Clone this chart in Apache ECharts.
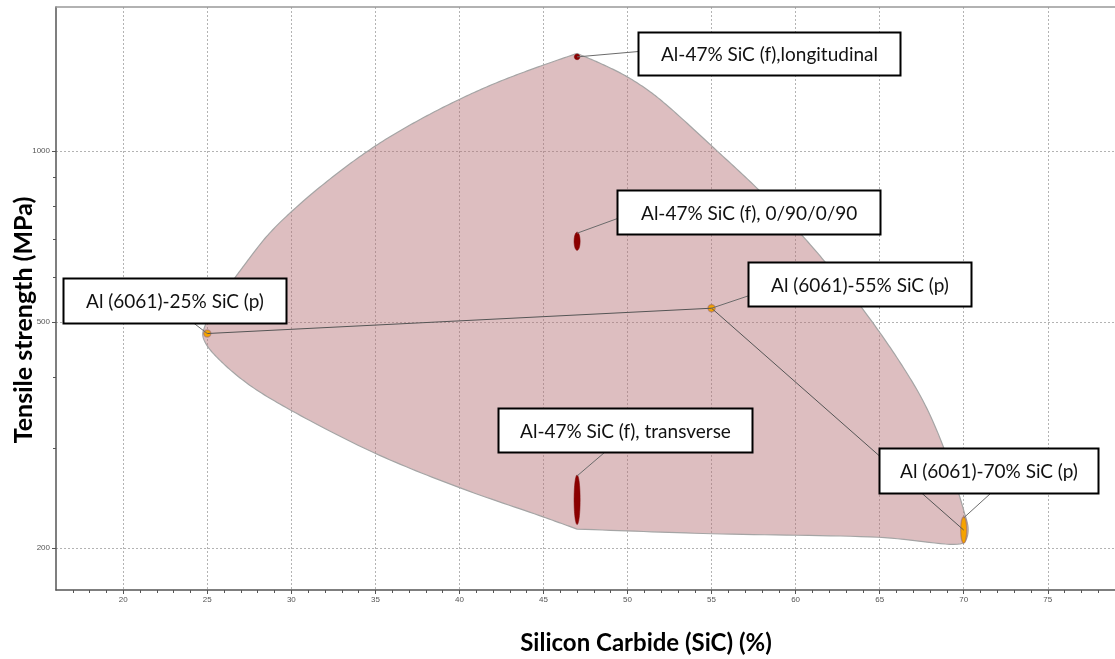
<!DOCTYPE html>
<html><head><meta charset="utf-8">
<script src="https://cdn.jsdelivr.net/npm/echarts@6/dist/echarts.min.js"></script>
<style>html,body{margin:0;padding:0;background:#fff}#c{width:1115px;height:659px}</style>
</head><body><div id="c"></div>
<script>
// ---------- data ----------
const materials = [
  'Al-47% SiC (f),longitudinal',
  'Al-47% SiC (f), 0/90/0/90',
  'Al-47% SiC (f), transverse',
  'Al (6061)-25% SiC (p)',
  'Al (6061)-55% SiC (p)',
  'Al (6061)-70% SiC (p)'
];
const materialFamily = ['fibre', 'fibre', 'fibre', '6061', '6061', '6061'];
const sicPercent   = [47, 47, 47, 25, 55, 70];
const strengthLow  = [1455, 668, 220, 474, 524, 204];   // MPa
const strengthHigh = [1470, 719, 269, 480, 533, 227];   // MPa

// envelope bubble around all materials (SiC %, MPa), clockwise from the top
const envelopeSiC = [47.00, 48.49, 49.91, 51.28, 52.46, 55.14, 57.81, 60.25, 62.15, 64.05, 66.13, 67.56, 68.63, 69.46, 70.00, 70.26, 70.17, 69.93,
  64.93, 55.02, 47.00, 44.98, 39.93, 34.95, 30.02, 27.52, 25.86, 24.97, 24.73, 24.82, 25.09, 25.62, 26.45, 27.11, 28.52, 30.00, 32.47, 34.99, 37.42, 39.99, 42.37, 45.00];
const envelopeStrength = [1483, 1420, 1353, 1274, 1194, 1011, 853, 717, 617, 524, 428, 364, 310, 263, 233, 217, 208, 204,
  209, 212, 216, 227, 256, 294, 349, 387, 425, 455, 474, 488, 508, 542, 587, 624, 706, 781, 900, 1019, 1125, 1231, 1323, 1415];

const xTicks = [20, 25, 30, 35, 40, 45, 50, 55, 60, 65, 70, 75];
const xMinorTicks = [17, 18, 19, 21, 22, 23, 24, 26, 27, 28, 29, 31, 32, 33, 34, 36, 37, 38, 39, 41, 42, 43, 44, 46, 47, 48, 49,
  51, 52, 53, 54, 56, 57, 58, 59, 61, 62, 63, 64, 66, 67, 68, 69, 71, 72, 73, 74, 76, 77, 78, 79];
const yTicks = [200, 500, 1000];
const yMinorTicks = [300, 400, 600, 700, 800, 900];
const X_MIN = 16, X_MAX = 79;
const Y_MIN = 168.8, Y_MAX = 1790;

// ---------- styles ----------
const envelopeCorners = [0, 20];   // outline vertices drawn as corners, the rest is a smooth curve
const familyFill   = { fibre: '#8b0000', '6061': '#f5a300' };
const familyStroke = { fibre: '#7a0000', '6061': 'rgba(150,100,100,0.55)' };
const familyMinR   = { fibre: 2.8, '6061': 3.6 };
// annotation boxes: offset of box top-left from the mark centre, size, leader start inside box, leader to mark top?
const boxDx = [60.7, 40, -79.3, -144, 36, -85];
const boxDy = [-24.6, -51.7, -92, -55.7, -46, -81.7];
const boxW  = [262, 263.4, 254, 223, 223, 219];
const boxH  = [43.3, 44, 44, 45, 44.3, 45];
const leadX = [0, 0, 106, 130.7, 0, 111];
const leadY = [19, 28, 44, 45, 33.3, 45];
const leadToTop = [false, true, true, false, false, true];

const L = Math.log10;
const TEXT_FONT = 'Lato, "Open Sans", sans-serif';
const chart = echarts.init(document.getElementById('c'));

const axisGray = '#555';
const gridLine = { show: true, lineStyle: { color: '#b3b3b3', type: [2, 2], width: 1 } };

const idx6061 = [3, 4, 5];

function markGeom(api) {
  const x = api.value(0), lo = api.value(1), hi = api.value(2), i = api.value(3);
  const c = api.coord([x, (lo + hi) / 2]);
  const pLo = api.coord([x, lo]), pHi = api.coord([x, hi]);
  const fam = materialFamily[i];
  let rx = api.coord([x + 0.18, lo])[0] - c[0];
  let ry = (pLo[1] - pHi[1]) / 2;
  if (ry < familyMinR[fam]) { rx = familyMinR[fam]; ry = familyMinR[fam]; }
  return { i, c, rx, ry, fam };
}

// centripetal Catmull-Rom outline through the (pixel-mapped) envelope vertices
function smoothOutline(pts, corners) {
  const n = pts.length, out = [];
  const dist = (a, b) => Math.sqrt(Math.hypot(b[0] - a[0], b[1] - a[1]));
  for (let i = 0; i < n; i++) {
    const j = (i + 1) % n;
    const P1 = pts[i], P2 = pts[j];
    const P0 = corners.includes(i) ? P1 : pts[(i - 1 + n) % n];
    const P3 = corners.includes(j) ? P2 : pts[(j + 1) % n];
    const d1 = dist(P0, P1), d2 = dist(P1, P2), d3 = dist(P2, P3);
    let B1, B2;
    if (d1 < 1e-6) B1 = [P1[0] + (P2[0] - P1[0]) / 3, P1[1] + (P2[1] - P1[1]) / 3];
    else B1 = [0, 1].map(k => (d1 * d1 * P2[k] - d2 * d2 * P0[k] + (2 * d1 * d1 + 3 * d1 * d2 + d2 * d2) * P1[k]) / (3 * d1 * (d1 + d2)));
    if (d3 < 1e-6) B2 = [P2[0] - (P2[0] - P1[0]) / 3, P2[1] - (P2[1] - P1[1]) / 3];
    else B2 = [0, 1].map(k => (d3 * d3 * P1[k] - d2 * d2 * P3[k] + (2 * d3 * d3 + 3 * d3 * d2 + d2 * d2) * P2[k]) / (3 * d3 * (d3 + d2)));
    const steps = 16;
    for (let s = 0; s < steps; s++) {
      const t = s / steps, u = 1 - t;
      out.push([0, 1].map(k => u * u * u * P1[k] + 3 * u * u * t * B1[k] + 3 * u * t * t * B2[k] + t * t * t * P2[k]));
    }
  }
  return out;
}

chart.setOption({
  animation: false,
  backgroundColor: '#fff',
  grid: { left: 56, right: 0, top: 7, bottom: 69 },
  xAxis: [
    { type: 'value', min: X_MIN, max: X_MAX, position: 'bottom',
      axisLine: { onZero: false, lineStyle: { color: axisGray, width: 1.5 } },
      axisTick: { customValues: xTicks, length: 4, lineStyle: { color: axisGray } },
      axisLabel: { customValues: xTicks, fontSize: 8, color: '#555', margin: 6, fontFamily: 'Liberation Sans' },
      splitLine: gridLine },
    { type: 'value', min: X_MIN, max: X_MAX, position: 'bottom',
      axisLine: { show: false, onZero: false },
      axisTick: { customValues: xMinorTicks, length: 3, lineStyle: { color: axisGray } },
      axisLabel: { show: false }, splitLine: { show: false } },
    { type: 'value', min: X_MIN, max: X_MAX, position: 'top',
      axisLine: { show: true, onZero: false, lineStyle: { color: '#999', width: 1.5 } },
      axisTick: { show: false }, axisLabel: { show: false }, splitLine: { show: false } }
  ],
  yAxis: [
    { type: 'value', min: L(Y_MIN), max: L(Y_MAX), position: 'left',
      axisLine: { show: true, onZero: false, lineStyle: { color: axisGray, width: 1.5 } },
      axisTick: { customValues: yTicks.map(L), length: 4, lineStyle: { color: axisGray } },
      axisLabel: { customValues: yTicks.map(L), fontSize: 8, color: '#555', margin: 6, fontFamily: 'Liberation Sans',
        formatter: v => String(Math.round(Math.pow(10, v))) },
      splitLine: gridLine },
    { type: 'value', min: L(Y_MIN), max: L(Y_MAX), position: 'left',
      axisLine: { show: false, onZero: false },
      axisTick: { customValues: yMinorTicks.map(L), length: 3, lineStyle: { color: axisGray } },
      axisLabel: { show: false }, splitLine: { show: false } }
  ],
  graphic: [
    { type: 'text', x: 646, y: 643, style: { text: 'Silicon Carbide (SiC) (%)', x: 0, y: 0, align: 'center', verticalAlign: 'middle',
        font: 'bold 24px ' + TEXT_FONT, fill: '#000' } },
    { type: 'text', x: 24, y: 320, rotation: Math.PI / 2,
      style: { text: 'Tensile strength (MPa)', x: 0, y: 0, align: 'center', verticalAlign: 'middle', font: 'bold 25px ' + TEXT_FONT, fill: '#000' } }
  ],
  series: [
    { type: 'custom', name: 'envelope', silent: true, z: 1,
      data: envelopeSiC.map((x, i) => [x, L(envelopeStrength[i])]),
      renderItem: (params, api) => {
        if (params.dataIndex !== 0) return null;
        const pts = envelopeSiC.map((x, i) => api.coord([x, L(envelopeStrength[i])]));
        return { type: 'polygon', shape: { points: smoothOutline(pts, envelopeCorners) },
          style: { fill: 'rgba(180,110,115,0.45)', stroke: '#a5a5a5', lineWidth: 1.2, lineJoin: 'round' } };
      } },
    { type: 'custom', name: 'materials', z: 3,
      data: materials.map((m, i) => [sicPercent[i], L(strengthLow[i]), L(strengthHigh[i]), i]),
      encode: { x: 0, y: [1, 2] },
      renderItem: (params, api) => {
        const g = markGeom(api);
        return { type: 'ellipse', shape: { cx: g.c[0], cy: g.c[1], rx: g.rx, ry: g.ry },
          style: { fill: familyFill[g.fam], stroke: familyStroke[g.fam], lineWidth: g.fam === '6061' ? 1.2 : 0.5 } };
      } },
    { type: 'line', name: 'Al 6061', z: 4, symbol: 'none', silent: true,
      data: idx6061.map(i => [sicPercent[i], (L(strengthLow[i]) + L(strengthHigh[i])) / 2]),
      lineStyle: { color: '#555', width: 1 } },
    { type: 'custom', name: 'labels', z: 5, silent: true,
      data: materials.map((m, i) => [sicPercent[i], L(strengthLow[i]), L(strengthHigh[i]), i]),
      encode: { x: 0, y: [1, 2] },
      renderItem: (params, api) => {
        const g = markGeom(api), i = g.i, c = g.c;
        const bx = Math.round(c[0] + boxDx[i]) + 0.5, by = Math.round(c[1] + boxDy[i]) + 0.5;
        const endY = leadToTop[i] ? c[1] - g.ry + 1 : c[1];
        return { type: 'group', children: [
          { type: 'line', shape: { x1: bx + leadX[i], y1: by + leadY[i], x2: c[0], y2: endY },
            style: { stroke: '#6b6b6b', lineWidth: 1 } },
          { type: 'rect', shape: { x: bx, y: by, width: Math.round(boxW[i]), height: Math.round(boxH[i]) },
            style: { fill: '#fff', stroke: '#000', lineWidth: 2 } },
          { type: 'text', style: { text: materials[i], x: bx + boxW[i] / 2, y: by + boxH[i] / 2 + 1,
              align: 'center', verticalAlign: 'middle', font: '19px ' + TEXT_FONT, fill: '#111' } }
        ] };
      } }
  ]
});
</script>
</body></html>
